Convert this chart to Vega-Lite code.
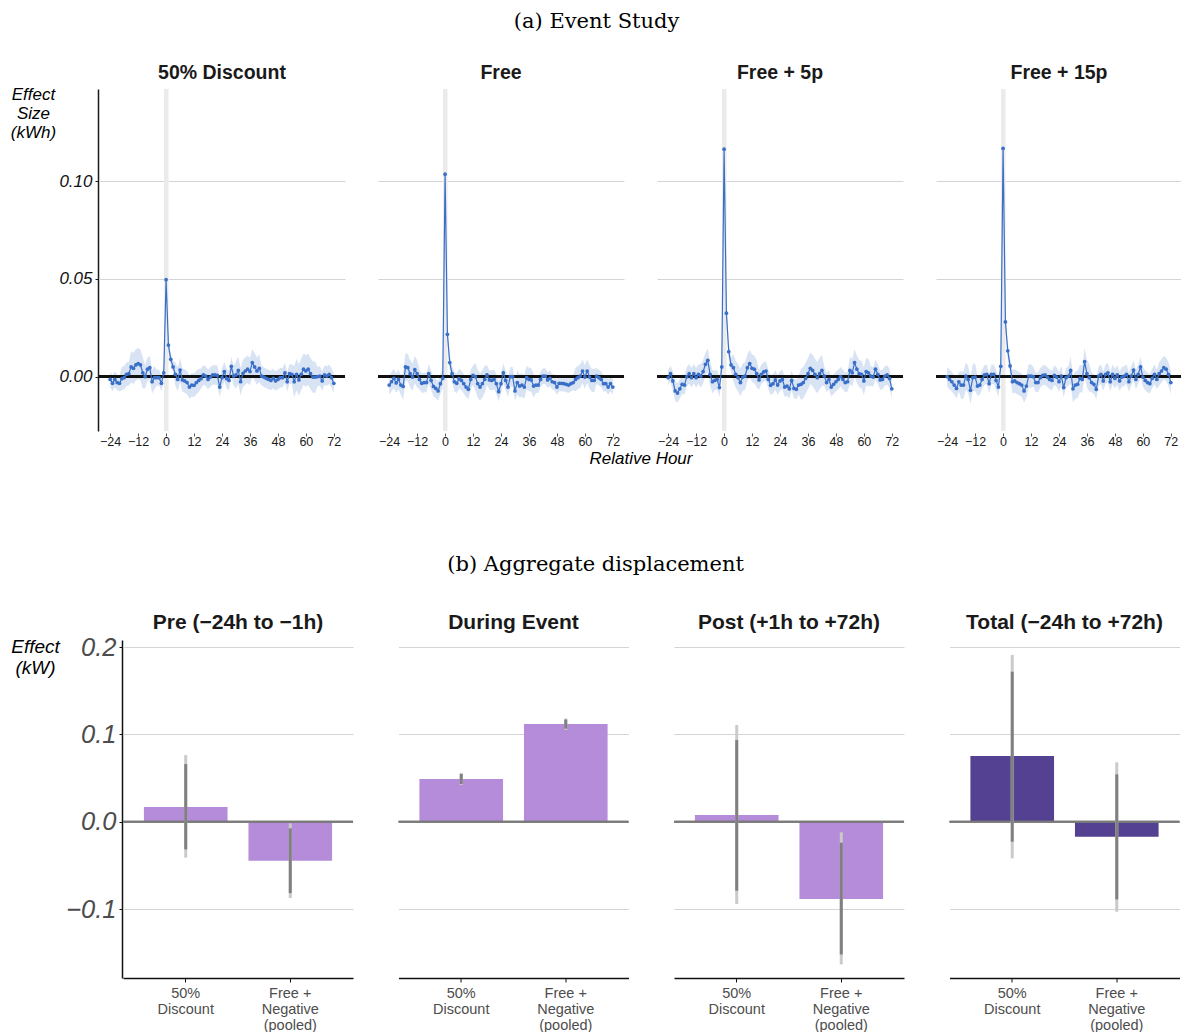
{
"$schema": "https://vega.github.io/schema/vega-lite/v6.json",
"padding": {"left": 9, "top": 10, "right": 0, "bottom": 0},
"background": "white",
"spacing": 87,
"config": {"view": {"stroke": null}, "axis": {"labelFont": "Liberation Sans", "titleFont": "Liberation Sans"}},
"datasets": {
"es": [
{"p":"50% Discount","h":-24,"e":-0.0014,"lo":-0.0054,"hi":0.0026},
{"p":"50% Discount","h":-23,"e":-0.0034,"lo":-0.0074,"hi":0.0006},
{"p":"50% Discount","h":-22,"e":-0.0014,"lo":-0.0054,"hi":0.0026},
{"p":"50% Discount","h":-21,"e":-0.0030,"lo":-0.0070,"hi":0.0010},
{"p":"50% Discount","h":-20,"e":-0.0034,"lo":-0.0074,"hi":0.0006},
{"p":"50% Discount","h":-19,"e":-0.0010,"lo":-0.0070,"hi":0.0050},
{"p":"50% Discount","h":-18,"e":-0.0005,"lo":-0.0065,"hi":0.0055},
{"p":"50% Discount","h":-17,"e":0.0012,"lo":-0.0048,"hi":0.0072},
{"p":"50% Discount","h":-16,"e":0.0015,"lo":-0.0045,"hi":0.0075},
{"p":"50% Discount","h":-15,"e":0.0050,"lo":-0.0030,"hi":0.0130},
{"p":"50% Discount","h":-14,"e":0.0043,"lo":-0.0037,"hi":0.0123},
{"p":"50% Discount","h":-13,"e":0.0060,"lo":-0.0020,"hi":0.0140},
{"p":"50% Discount","h":-12,"e":0.0067,"lo":-0.0013,"hi":0.0147},
{"p":"50% Discount","h":-11,"e":0.0060,"lo":-0.0020,"hi":0.0140},
{"p":"50% Discount","h":-10,"e":0.0020,"lo":-0.0060,"hi":0.0100},
{"p":"50% Discount","h":-9,"e":0.0000,"lo":-0.0060,"hi":0.0060},
{"p":"50% Discount","h":-8,"e":0.0038,"lo":-0.0022,"hi":0.0098},
{"p":"50% Discount","h":-7,"e":0.0046,"lo":-0.0014,"hi":0.0106},
{"p":"50% Discount","h":-6,"e":-0.0026,"lo":-0.0086,"hi":0.0034},
{"p":"50% Discount","h":-5,"e":-0.0005,"lo":-0.0065,"hi":0.0055},
{"p":"50% Discount","h":-4,"e":-0.0005,"lo":-0.0045,"hi":0.0035},
{"p":"50% Discount","h":-3,"e":-0.0005,"lo":-0.0045,"hi":0.0035},
{"p":"50% Discount","h":-2,"e":-0.0034,"lo":-0.0074,"hi":0.0006},
{"p":"50% Discount","h":-1,"e":0.0020,"lo":-0.0020,"hi":0.0060},
{"p":"50% Discount","h":0,"e":0.0496,"lo":0.0476,"hi":0.0516},
{"p":"50% Discount","h":1,"e":0.0162,"lo":0.0132,"hi":0.0192},
{"p":"50% Discount","h":2,"e":0.0089,"lo":0.0059,"hi":0.0119},
{"p":"50% Discount","h":3,"e":0.0050,"lo":0.0020,"hi":0.0080},
{"p":"50% Discount","h":4,"e":0.0012,"lo":-0.0048,"hi":0.0072},
{"p":"50% Discount","h":5,"e":-0.0014,"lo":-0.0074,"hi":0.0046},
{"p":"50% Discount","h":6,"e":0.0034,"lo":-0.0026,"hi":0.0094},
{"p":"50% Discount","h":7,"e":-0.0017,"lo":-0.0077,"hi":0.0043},
{"p":"50% Discount","h":8,"e":-0.0022,"lo":-0.0082,"hi":0.0038},
{"p":"50% Discount","h":9,"e":-0.0030,"lo":-0.0090,"hi":0.0030},
{"p":"50% Discount","h":10,"e":-0.0053,"lo":-0.0113,"hi":0.0007},
{"p":"50% Discount","h":11,"e":-0.0043,"lo":-0.0103,"hi":0.0017},
{"p":"50% Discount","h":12,"e":-0.0044,"lo":-0.0104,"hi":0.0016},
{"p":"50% Discount","h":13,"e":-0.0030,"lo":-0.0090,"hi":0.0030},
{"p":"50% Discount","h":14,"e":-0.0019,"lo":-0.0079,"hi":0.0041},
{"p":"50% Discount","h":15,"e":-0.0010,"lo":-0.0060,"hi":0.0040},
{"p":"50% Discount","h":16,"e":0.0009,"lo":-0.0041,"hi":0.0059},
{"p":"50% Discount","h":17,"e":0.0003,"lo":-0.0047,"hi":0.0053},
{"p":"50% Discount","h":18,"e":-0.0014,"lo":-0.0064,"hi":0.0036},
{"p":"50% Discount","h":19,"e":-0.0002,"lo":-0.0052,"hi":0.0048},
{"p":"50% Discount","h":20,"e":0.0009,"lo":-0.0041,"hi":0.0059},
{"p":"50% Discount","h":21,"e":0.0009,"lo":-0.0041,"hi":0.0059},
{"p":"50% Discount","h":22,"e":0.0007,"lo":-0.0043,"hi":0.0057},
{"p":"50% Discount","h":23,"e":-0.0053,"lo":-0.0103,"hi":-0.0003},
{"p":"50% Discount","h":24,"e":-0.0005,"lo":-0.0055,"hi":0.0045},
{"p":"50% Discount","h":25,"e":0.0026,"lo":-0.0024,"hi":0.0076},
{"p":"50% Discount","h":26,"e":-0.0010,"lo":-0.0060,"hi":0.0040},
{"p":"50% Discount","h":27,"e":-0.0019,"lo":-0.0069,"hi":0.0031},
{"p":"50% Discount","h":28,"e":0.0053,"lo":0.0003,"hi":0.0103},
{"p":"50% Discount","h":29,"e":0.0003,"lo":-0.0047,"hi":0.0053},
{"p":"50% Discount","h":30,"e":0.0009,"lo":-0.0061,"hi":0.0079},
{"p":"50% Discount","h":31,"e":0.0032,"lo":-0.0038,"hi":0.0102},
{"p":"50% Discount","h":32,"e":-0.0026,"lo":-0.0096,"hi":0.0044},
{"p":"50% Discount","h":33,"e":0.0017,"lo":-0.0053,"hi":0.0087},
{"p":"50% Discount","h":34,"e":0.0029,"lo":-0.0041,"hi":0.0099},
{"p":"50% Discount","h":35,"e":0.0038,"lo":-0.0032,"hi":0.0108},
{"p":"50% Discount","h":36,"e":0.0026,"lo":-0.0044,"hi":0.0096},
{"p":"50% Discount","h":37,"e":0.0072,"lo":0.0002,"hi":0.0142},
{"p":"50% Discount","h":38,"e":0.0050,"lo":-0.0020,"hi":0.0120},
{"p":"50% Discount","h":39,"e":0.0029,"lo":-0.0041,"hi":0.0099},
{"p":"50% Discount","h":40,"e":0.0043,"lo":-0.0027,"hi":0.0113},
{"p":"50% Discount","h":41,"e":0.0003,"lo":-0.0047,"hi":0.0053},
{"p":"50% Discount","h":42,"e":-0.0002,"lo":-0.0052,"hi":0.0048},
{"p":"50% Discount","h":43,"e":-0.0009,"lo":-0.0059,"hi":0.0041},
{"p":"50% Discount","h":44,"e":-0.0014,"lo":-0.0064,"hi":0.0036},
{"p":"50% Discount","h":45,"e":-0.0019,"lo":-0.0069,"hi":0.0031},
{"p":"50% Discount","h":46,"e":-0.0009,"lo":-0.0059,"hi":0.0041},
{"p":"50% Discount","h":47,"e":-0.0022,"lo":-0.0072,"hi":0.0028},
{"p":"50% Discount","h":48,"e":-0.0014,"lo":-0.0064,"hi":0.0036},
{"p":"50% Discount","h":49,"e":-0.0005,"lo":-0.0055,"hi":0.0045},
{"p":"50% Discount","h":50,"e":-0.0005,"lo":-0.0055,"hi":0.0045},
{"p":"50% Discount","h":51,"e":0.0020,"lo":-0.0030,"hi":0.0070},
{"p":"50% Discount","h":52,"e":-0.0026,"lo":-0.0076,"hi":0.0024},
{"p":"50% Discount","h":53,"e":0.0015,"lo":-0.0035,"hi":0.0065},
{"p":"50% Discount","h":54,"e":0.0012,"lo":-0.0038,"hi":0.0062},
{"p":"50% Discount","h":55,"e":-0.0026,"lo":-0.0106,"hi":0.0054},
{"p":"50% Discount","h":56,"e":0.0012,"lo":-0.0068,"hi":0.0092},
{"p":"50% Discount","h":57,"e":-0.0017,"lo":-0.0097,"hi":0.0063},
{"p":"50% Discount","h":58,"e":0.0012,"lo":-0.0068,"hi":0.0092},
{"p":"50% Discount","h":59,"e":0.0038,"lo":-0.0042,"hi":0.0118},
{"p":"50% Discount","h":60,"e":0.0029,"lo":-0.0051,"hi":0.0109},
{"p":"50% Discount","h":61,"e":0.0038,"lo":-0.0042,"hi":0.0118},
{"p":"50% Discount","h":62,"e":0.0015,"lo":-0.0065,"hi":0.0095},
{"p":"50% Discount","h":63,"e":-0.0002,"lo":-0.0082,"hi":0.0078},
{"p":"50% Discount","h":64,"e":-0.0002,"lo":-0.0082,"hi":0.0078},
{"p":"50% Discount","h":65,"e":0.0000,"lo":-0.0050,"hi":0.0050},
{"p":"50% Discount","h":66,"e":0.0003,"lo":-0.0047,"hi":0.0053},
{"p":"50% Discount","h":67,"e":-0.0022,"lo":-0.0072,"hi":0.0028},
{"p":"50% Discount","h":68,"e":0.0009,"lo":-0.0041,"hi":0.0059},
{"p":"50% Discount","h":69,"e":0.0003,"lo":-0.0047,"hi":0.0053},
{"p":"50% Discount","h":70,"e":0.0012,"lo":-0.0038,"hi":0.0062},
{"p":"50% Discount","h":71,"e":-0.0005,"lo":-0.0055,"hi":0.0045},
{"p":"50% Discount","h":72,"e":-0.0034,"lo":-0.0084,"hi":0.0016},
{"p":"Free","h":-24,"e":-0.0043,"lo":-0.0093,"hi":0.0007},
{"p":"Free","h":-23,"e":-0.0026,"lo":-0.0076,"hi":0.0024},
{"p":"Free","h":-22,"e":-0.0009,"lo":-0.0059,"hi":0.0041},
{"p":"Free","h":-21,"e":-0.0032,"lo":-0.0082,"hi":0.0018},
{"p":"Free","h":-20,"e":-0.0014,"lo":-0.0064,"hi":0.0036},
{"p":"Free","h":-19,"e":-0.0043,"lo":-0.0093,"hi":0.0007},
{"p":"Free","h":-18,"e":-0.0050,"lo":-0.0120,"hi":0.0020},
{"p":"Free","h":-17,"e":0.0050,"lo":-0.0020,"hi":0.0120},
{"p":"Free","h":-16,"e":0.0046,"lo":-0.0024,"hi":0.0116},
{"p":"Free","h":-15,"e":0.0015,"lo":-0.0055,"hi":0.0085},
{"p":"Free","h":-14,"e":-0.0002,"lo":-0.0072,"hi":0.0068},
{"p":"Free","h":-13,"e":0.0036,"lo":-0.0034,"hi":0.0106},
{"p":"Free","h":-12,"e":0.0015,"lo":-0.0055,"hi":0.0085},
{"p":"Free","h":-11,"e":-0.0014,"lo":-0.0064,"hi":0.0036},
{"p":"Free","h":-10,"e":-0.0034,"lo":-0.0084,"hi":0.0016},
{"p":"Free","h":-9,"e":-0.0030,"lo":-0.0080,"hi":0.0020},
{"p":"Free","h":-8,"e":-0.0030,"lo":-0.0080,"hi":0.0020},
{"p":"Free","h":-7,"e":0.0015,"lo":-0.0035,"hi":0.0065},
{"p":"Free","h":-6,"e":-0.0019,"lo":-0.0069,"hi":0.0031},
{"p":"Free","h":-5,"e":-0.0050,"lo":-0.0100,"hi":0.0000},
{"p":"Free","h":-4,"e":-0.0060,"lo":-0.0110,"hi":-0.0010},
{"p":"Free","h":-3,"e":-0.0073,"lo":-0.0123,"hi":-0.0023},
{"p":"Free","h":-2,"e":-0.0036,"lo":-0.0086,"hi":0.0014},
{"p":"Free","h":-1,"e":-0.0009,"lo":-0.0059,"hi":0.0041},
{"p":"Free","h":0,"e":0.1036,"lo":0.1006,"hi":0.1066},
{"p":"Free","h":1,"e":0.0217,"lo":0.0177,"hi":0.0257},
{"p":"Free","h":2,"e":0.0072,"lo":0.0032,"hi":0.0112},
{"p":"Free","h":3,"e":0.0015,"lo":-0.0025,"hi":0.0055},
{"p":"Free","h":4,"e":-0.0026,"lo":-0.0076,"hi":0.0024},
{"p":"Free","h":5,"e":-0.0034,"lo":-0.0084,"hi":0.0016},
{"p":"Free","h":6,"e":-0.0010,"lo":-0.0060,"hi":0.0040},
{"p":"Free","h":7,"e":-0.0019,"lo":-0.0069,"hi":0.0031},
{"p":"Free","h":8,"e":-0.0036,"lo":-0.0086,"hi":0.0014},
{"p":"Free","h":9,"e":-0.0053,"lo":-0.0103,"hi":-0.0003},
{"p":"Free","h":10,"e":-0.0065,"lo":-0.0115,"hi":-0.0015},
{"p":"Free","h":11,"e":-0.0014,"lo":-0.0064,"hi":0.0036},
{"p":"Free","h":12,"e":0.0007,"lo":-0.0043,"hi":0.0057},
{"p":"Free","h":13,"e":0.0000,"lo":-0.0070,"hi":0.0070},
{"p":"Free","h":14,"e":-0.0036,"lo":-0.0106,"hi":0.0034},
{"p":"Free","h":15,"e":-0.0053,"lo":-0.0123,"hi":0.0017},
{"p":"Free","h":16,"e":-0.0036,"lo":-0.0106,"hi":0.0034},
{"p":"Free","h":17,"e":-0.0014,"lo":-0.0084,"hi":0.0056},
{"p":"Free","h":18,"e":0.0009,"lo":-0.0041,"hi":0.0059},
{"p":"Free","h":19,"e":-0.0017,"lo":-0.0067,"hi":0.0033},
{"p":"Free","h":20,"e":-0.0019,"lo":-0.0069,"hi":0.0031},
{"p":"Free","h":21,"e":-0.0014,"lo":-0.0064,"hi":0.0036},
{"p":"Free","h":22,"e":-0.0036,"lo":-0.0086,"hi":0.0014},
{"p":"Free","h":23,"e":-0.0077,"lo":-0.0127,"hi":-0.0027},
{"p":"Free","h":24,"e":-0.0036,"lo":-0.0086,"hi":0.0014},
{"p":"Free","h":25,"e":0.0020,"lo":-0.0030,"hi":0.0070},
{"p":"Free","h":26,"e":-0.0019,"lo":-0.0069,"hi":0.0031},
{"p":"Free","h":27,"e":-0.0053,"lo":-0.0103,"hi":-0.0003},
{"p":"Free","h":28,"e":0.0000,"lo":-0.0050,"hi":0.0050},
{"p":"Free","h":29,"e":0.0000,"lo":-0.0050,"hi":0.0050},
{"p":"Free","h":30,"e":-0.0073,"lo":-0.0123,"hi":-0.0023},
{"p":"Free","h":31,"e":-0.0030,"lo":-0.0090,"hi":0.0030},
{"p":"Free","h":32,"e":-0.0048,"lo":-0.0108,"hi":0.0012},
{"p":"Free","h":33,"e":-0.0043,"lo":-0.0103,"hi":0.0017},
{"p":"Free","h":34,"e":-0.0053,"lo":-0.0113,"hi":0.0007},
{"p":"Free","h":35,"e":-0.0005,"lo":-0.0065,"hi":0.0055},
{"p":"Free","h":36,"e":-0.0014,"lo":-0.0074,"hi":0.0046},
{"p":"Free","h":37,"e":-0.0017,"lo":-0.0077,"hi":0.0043},
{"p":"Free","h":38,"e":-0.0048,"lo":-0.0108,"hi":0.0012},
{"p":"Free","h":39,"e":-0.0043,"lo":-0.0083,"hi":-0.0003},
{"p":"Free","h":40,"e":-0.0043,"lo":-0.0083,"hi":-0.0003},
{"p":"Free","h":41,"e":-0.0014,"lo":-0.0054,"hi":0.0026},
{"p":"Free","h":42,"e":0.0003,"lo":-0.0037,"hi":0.0043},
{"p":"Free","h":43,"e":0.0003,"lo":-0.0037,"hi":0.0043},
{"p":"Free","h":44,"e":-0.0017,"lo":-0.0057,"hi":0.0023},
{"p":"Free","h":45,"e":-0.0009,"lo":-0.0049,"hi":0.0031},
{"p":"Free","h":46,"e":-0.0026,"lo":-0.0066,"hi":0.0014},
{"p":"Free","h":47,"e":-0.0030,"lo":-0.0070,"hi":0.0010},
{"p":"Free","h":48,"e":-0.0053,"lo":-0.0093,"hi":-0.0013},
{"p":"Free","h":49,"e":-0.0034,"lo":-0.0074,"hi":0.0006},
{"p":"Free","h":50,"e":-0.0034,"lo":-0.0074,"hi":0.0006},
{"p":"Free","h":51,"e":-0.0036,"lo":-0.0076,"hi":0.0004},
{"p":"Free","h":52,"e":-0.0039,"lo":-0.0079,"hi":0.0001},
{"p":"Free","h":53,"e":-0.0043,"lo":-0.0083,"hi":-0.0003},
{"p":"Free","h":54,"e":-0.0036,"lo":-0.0076,"hi":0.0004},
{"p":"Free","h":55,"e":-0.0030,"lo":-0.0070,"hi":0.0010},
{"p":"Free","h":56,"e":-0.0014,"lo":-0.0074,"hi":0.0046},
{"p":"Free","h":57,"e":-0.0005,"lo":-0.0065,"hi":0.0055},
{"p":"Free","h":58,"e":0.0003,"lo":-0.0057,"hi":0.0063},
{"p":"Free","h":59,"e":0.0029,"lo":-0.0031,"hi":0.0089},
{"p":"Free","h":60,"e":-0.0002,"lo":-0.0062,"hi":0.0058},
{"p":"Free","h":61,"e":0.0029,"lo":-0.0031,"hi":0.0089},
{"p":"Free","h":62,"e":-0.0002,"lo":-0.0062,"hi":0.0058},
{"p":"Free","h":63,"e":-0.0019,"lo":-0.0079,"hi":0.0041},
{"p":"Free","h":64,"e":-0.0019,"lo":-0.0079,"hi":0.0041},
{"p":"Free","h":65,"e":0.0003,"lo":-0.0037,"hi":0.0043},
{"p":"Free","h":66,"e":-0.0005,"lo":-0.0045,"hi":0.0035},
{"p":"Free","h":67,"e":-0.0014,"lo":-0.0054,"hi":0.0026},
{"p":"Free","h":68,"e":-0.0036,"lo":-0.0076,"hi":0.0004},
{"p":"Free","h":69,"e":-0.0036,"lo":-0.0076,"hi":0.0004},
{"p":"Free","h":70,"e":-0.0053,"lo":-0.0093,"hi":-0.0013},
{"p":"Free","h":71,"e":-0.0036,"lo":-0.0076,"hi":0.0004},
{"p":"Free","h":72,"e":-0.0053,"lo":-0.0093,"hi":-0.0013},
{"p":"Free + 5p","h":-24,"e":-0.0005,"lo":-0.0045,"hi":0.0035},
{"p":"Free + 5p","h":-23,"e":0.0015,"lo":-0.0025,"hi":0.0055},
{"p":"Free + 5p","h":-22,"e":-0.0022,"lo":-0.0072,"hi":0.0028},
{"p":"Free + 5p","h":-21,"e":-0.0073,"lo":-0.0123,"hi":-0.0023},
{"p":"Free + 5p","h":-20,"e":-0.0084,"lo":-0.0134,"hi":-0.0034},
{"p":"Free + 5p","h":-19,"e":-0.0062,"lo":-0.0112,"hi":-0.0012},
{"p":"Free + 5p","h":-18,"e":-0.0039,"lo":-0.0089,"hi":0.0011},
{"p":"Free + 5p","h":-17,"e":-0.0043,"lo":-0.0093,"hi":0.0007},
{"p":"Free + 5p","h":-16,"e":0.0000,"lo":-0.0050,"hi":0.0050},
{"p":"Free + 5p","h":-15,"e":0.0015,"lo":-0.0035,"hi":0.0065},
{"p":"Free + 5p","h":-14,"e":-0.0005,"lo":-0.0055,"hi":0.0045},
{"p":"Free + 5p","h":-13,"e":0.0015,"lo":-0.0035,"hi":0.0065},
{"p":"Free + 5p","h":-12,"e":-0.0005,"lo":-0.0055,"hi":0.0045},
{"p":"Free + 5p","h":-11,"e":0.0012,"lo":-0.0038,"hi":0.0062},
{"p":"Free + 5p","h":-10,"e":0.0003,"lo":-0.0057,"hi":0.0063},
{"p":"Free + 5p","h":-9,"e":0.0026,"lo":-0.0034,"hi":0.0086},
{"p":"Free + 5p","h":-8,"e":0.0063,"lo":0.0003,"hi":0.0123},
{"p":"Free + 5p","h":-7,"e":0.0084,"lo":0.0024,"hi":0.0144},
{"p":"Free + 5p","h":-6,"e":0.0012,"lo":-0.0048,"hi":0.0072},
{"p":"Free + 5p","h":-5,"e":-0.0026,"lo":-0.0086,"hi":0.0034},
{"p":"Free + 5p","h":-4,"e":-0.0019,"lo":-0.0069,"hi":0.0031},
{"p":"Free + 5p","h":-3,"e":-0.0014,"lo":-0.0064,"hi":0.0036},
{"p":"Free + 5p","h":-2,"e":-0.0056,"lo":-0.0106,"hi":-0.0006},
{"p":"Free + 5p","h":-1,"e":0.0050,"lo":0.0000,"hi":0.0100},
{"p":"Free + 5p","h":0,"e":0.1164,"lo":0.1134,"hi":0.1194},
{"p":"Free + 5p","h":1,"e":0.0325,"lo":0.0285,"hi":0.0365},
{"p":"Free + 5p","h":2,"e":0.0128,"lo":0.0088,"hi":0.0168},
{"p":"Free + 5p","h":3,"e":0.0060,"lo":0.0020,"hi":0.0100},
{"p":"Free + 5p","h":4,"e":0.0046,"lo":-0.0024,"hi":0.0116},
{"p":"Free + 5p","h":5,"e":0.0012,"lo":-0.0058,"hi":0.0082},
{"p":"Free + 5p","h":6,"e":-0.0005,"lo":-0.0075,"hi":0.0065},
{"p":"Free + 5p","h":7,"e":-0.0030,"lo":-0.0100,"hi":0.0040},
{"p":"Free + 5p","h":8,"e":-0.0002,"lo":-0.0072,"hi":0.0068},
{"p":"Free + 5p","h":9,"e":0.0003,"lo":-0.0067,"hi":0.0073},
{"p":"Free + 5p","h":10,"e":0.0046,"lo":-0.0024,"hi":0.0116},
{"p":"Free + 5p","h":11,"e":0.0067,"lo":-0.0003,"hi":0.0137},
{"p":"Free + 5p","h":12,"e":0.0043,"lo":-0.0027,"hi":0.0113},
{"p":"Free + 5p","h":13,"e":0.0038,"lo":-0.0032,"hi":0.0108},
{"p":"Free + 5p","h":14,"e":0.0015,"lo":-0.0055,"hi":0.0085},
{"p":"Free + 5p","h":15,"e":-0.0017,"lo":-0.0067,"hi":0.0033},
{"p":"Free + 5p","h":16,"e":0.0012,"lo":-0.0038,"hi":0.0062},
{"p":"Free + 5p","h":17,"e":0.0024,"lo":-0.0026,"hi":0.0074},
{"p":"Free + 5p","h":18,"e":0.0029,"lo":-0.0021,"hi":0.0079},
{"p":"Free + 5p","h":19,"e":-0.0014,"lo":-0.0064,"hi":0.0036},
{"p":"Free + 5p","h":20,"e":-0.0044,"lo":-0.0094,"hi":0.0006},
{"p":"Free + 5p","h":21,"e":-0.0036,"lo":-0.0086,"hi":0.0014},
{"p":"Free + 5p","h":22,"e":-0.0017,"lo":-0.0067,"hi":0.0033},
{"p":"Free + 5p","h":23,"e":-0.0043,"lo":-0.0093,"hi":0.0007},
{"p":"Free + 5p","h":24,"e":-0.0022,"lo":-0.0072,"hi":0.0028},
{"p":"Free + 5p","h":25,"e":-0.0014,"lo":-0.0064,"hi":0.0036},
{"p":"Free + 5p","h":26,"e":-0.0053,"lo":-0.0103,"hi":-0.0003},
{"p":"Free + 5p","h":27,"e":-0.0048,"lo":-0.0098,"hi":0.0002},
{"p":"Free + 5p","h":28,"e":-0.0062,"lo":-0.0112,"hi":-0.0012},
{"p":"Free + 5p","h":29,"e":-0.0019,"lo":-0.0069,"hi":0.0031},
{"p":"Free + 5p","h":30,"e":-0.0060,"lo":-0.0110,"hi":-0.0010},
{"p":"Free + 5p","h":31,"e":-0.0065,"lo":-0.0115,"hi":-0.0015},
{"p":"Free + 5p","h":32,"e":-0.0043,"lo":-0.0093,"hi":0.0007},
{"p":"Free + 5p","h":33,"e":-0.0039,"lo":-0.0119,"hi":0.0041},
{"p":"Free + 5p","h":34,"e":-0.0030,"lo":-0.0110,"hi":0.0050},
{"p":"Free + 5p","h":35,"e":-0.0009,"lo":-0.0089,"hi":0.0071},
{"p":"Free + 5p","h":36,"e":0.0015,"lo":-0.0065,"hi":0.0095},
{"p":"Free + 5p","h":37,"e":0.0043,"lo":-0.0037,"hi":0.0123},
{"p":"Free + 5p","h":38,"e":0.0032,"lo":-0.0048,"hi":0.0112},
{"p":"Free + 5p","h":39,"e":0.0012,"lo":-0.0068,"hi":0.0092},
{"p":"Free + 5p","h":40,"e":-0.0005,"lo":-0.0085,"hi":0.0075},
{"p":"Free + 5p","h":41,"e":0.0015,"lo":-0.0065,"hi":0.0095},
{"p":"Free + 5p","h":42,"e":0.0032,"lo":-0.0048,"hi":0.0112},
{"p":"Free + 5p","h":43,"e":0.0003,"lo":-0.0047,"hi":0.0053},
{"p":"Free + 5p","h":44,"e":-0.0030,"lo":-0.0080,"hi":0.0020},
{"p":"Free + 5p","h":45,"e":-0.0014,"lo":-0.0064,"hi":0.0036},
{"p":"Free + 5p","h":46,"e":-0.0053,"lo":-0.0103,"hi":-0.0003},
{"p":"Free + 5p","h":47,"e":-0.0039,"lo":-0.0089,"hi":0.0011},
{"p":"Free + 5p","h":48,"e":-0.0026,"lo":-0.0076,"hi":0.0024},
{"p":"Free + 5p","h":49,"e":-0.0014,"lo":-0.0064,"hi":0.0036},
{"p":"Free + 5p","h":50,"e":0.0000,"lo":-0.0050,"hi":0.0050},
{"p":"Free + 5p","h":51,"e":-0.0014,"lo":-0.0064,"hi":0.0036},
{"p":"Free + 5p","h":52,"e":-0.0030,"lo":-0.0080,"hi":0.0020},
{"p":"Free + 5p","h":53,"e":-0.0026,"lo":-0.0076,"hi":0.0024},
{"p":"Free + 5p","h":54,"e":0.0032,"lo":-0.0038,"hi":0.0102},
{"p":"Free + 5p","h":55,"e":0.0020,"lo":-0.0050,"hi":0.0090},
{"p":"Free + 5p","h":56,"e":0.0072,"lo":0.0002,"hi":0.0142},
{"p":"Free + 5p","h":57,"e":0.0038,"lo":-0.0032,"hi":0.0108},
{"p":"Free + 5p","h":58,"e":0.0015,"lo":-0.0055,"hi":0.0085},
{"p":"Free + 5p","h":59,"e":0.0012,"lo":-0.0058,"hi":0.0082},
{"p":"Free + 5p","h":60,"e":-0.0022,"lo":-0.0092,"hi":0.0048},
{"p":"Free + 5p","h":61,"e":0.0026,"lo":-0.0044,"hi":0.0096},
{"p":"Free + 5p","h":62,"e":0.0020,"lo":-0.0050,"hi":0.0090},
{"p":"Free + 5p","h":63,"e":0.0003,"lo":-0.0047,"hi":0.0053},
{"p":"Free + 5p","h":64,"e":-0.0002,"lo":-0.0052,"hi":0.0048},
{"p":"Free + 5p","h":65,"e":0.0038,"lo":-0.0012,"hi":0.0088},
{"p":"Free + 5p","h":66,"e":0.0012,"lo":-0.0038,"hi":0.0062},
{"p":"Free + 5p","h":67,"e":-0.0017,"lo":-0.0067,"hi":0.0033},
{"p":"Free + 5p","h":68,"e":-0.0014,"lo":-0.0064,"hi":0.0036},
{"p":"Free + 5p","h":69,"e":0.0003,"lo":-0.0047,"hi":0.0053},
{"p":"Free + 5p","h":70,"e":0.0009,"lo":-0.0041,"hi":0.0059},
{"p":"Free + 5p","h":71,"e":-0.0009,"lo":-0.0059,"hi":0.0041},
{"p":"Free + 5p","h":72,"e":-0.0062,"lo":-0.0112,"hi":-0.0012},
{"p":"Free + 15p","h":-24,"e":0.0000,"lo":-0.0050,"hi":0.0050},
{"p":"Free + 15p","h":-23,"e":-0.0014,"lo":-0.0064,"hi":0.0036},
{"p":"Free + 15p","h":-22,"e":-0.0026,"lo":-0.0076,"hi":0.0024},
{"p":"Free + 15p","h":-21,"e":-0.0043,"lo":-0.0093,"hi":0.0007},
{"p":"Free + 15p","h":-20,"e":-0.0060,"lo":-0.0110,"hi":-0.0010},
{"p":"Free + 15p","h":-19,"e":-0.0026,"lo":-0.0076,"hi":0.0024},
{"p":"Free + 15p","h":-18,"e":-0.0043,"lo":-0.0113,"hi":0.0027},
{"p":"Free + 15p","h":-17,"e":-0.0043,"lo":-0.0113,"hi":0.0027},
{"p":"Free + 15p","h":-16,"e":0.0003,"lo":-0.0067,"hi":0.0073},
{"p":"Free + 15p","h":-15,"e":-0.0014,"lo":-0.0084,"hi":0.0056},
{"p":"Free + 15p","h":-14,"e":-0.0070,"lo":-0.0140,"hi":0.0000},
{"p":"Free + 15p","h":-13,"e":-0.0005,"lo":-0.0075,"hi":0.0065},
{"p":"Free + 15p","h":-12,"e":-0.0002,"lo":-0.0072,"hi":0.0068},
{"p":"Free + 15p","h":-11,"e":-0.0048,"lo":-0.0098,"hi":0.0002},
{"p":"Free + 15p","h":-10,"e":-0.0043,"lo":-0.0093,"hi":0.0007},
{"p":"Free + 15p","h":-9,"e":-0.0014,"lo":-0.0064,"hi":0.0036},
{"p":"Free + 15p","h":-8,"e":0.0009,"lo":-0.0041,"hi":0.0059},
{"p":"Free + 15p","h":-7,"e":0.0012,"lo":-0.0038,"hi":0.0062},
{"p":"Free + 15p","h":-6,"e":-0.0036,"lo":-0.0086,"hi":0.0014},
{"p":"Free + 15p","h":-5,"e":0.0012,"lo":-0.0038,"hi":0.0062},
{"p":"Free + 15p","h":-4,"e":0.0012,"lo":-0.0038,"hi":0.0062},
{"p":"Free + 15p","h":-3,"e":-0.0019,"lo":-0.0069,"hi":0.0031},
{"p":"Free + 15p","h":-2,"e":-0.0053,"lo":-0.0103,"hi":-0.0003},
{"p":"Free + 15p","h":-1,"e":0.0053,"lo":0.0003,"hi":0.0103},
{"p":"Free + 15p","h":0,"e":0.1168,"lo":0.1138,"hi":0.1198},
{"p":"Free + 15p","h":1,"e":0.0280,"lo":0.0240,"hi":0.0320},
{"p":"Free + 15p","h":2,"e":0.0132,"lo":0.0092,"hi":0.0172},
{"p":"Free + 15p","h":3,"e":0.0055,"lo":0.0015,"hi":0.0095},
{"p":"Free + 15p","h":4,"e":-0.0026,"lo":-0.0086,"hi":0.0034},
{"p":"Free + 15p","h":5,"e":-0.0022,"lo":-0.0082,"hi":0.0038},
{"p":"Free + 15p","h":6,"e":-0.0030,"lo":-0.0090,"hi":0.0030},
{"p":"Free + 15p","h":7,"e":-0.0036,"lo":-0.0096,"hi":0.0024},
{"p":"Free + 15p","h":8,"e":-0.0043,"lo":-0.0103,"hi":0.0017},
{"p":"Free + 15p","h":9,"e":-0.0073,"lo":-0.0133,"hi":-0.0013},
{"p":"Free + 15p","h":10,"e":-0.0048,"lo":-0.0108,"hi":0.0012},
{"p":"Free + 15p","h":11,"e":0.0003,"lo":-0.0057,"hi":0.0063},
{"p":"Free + 15p","h":12,"e":0.0003,"lo":-0.0057,"hi":0.0063},
{"p":"Free + 15p","h":13,"e":0.0000,"lo":-0.0050,"hi":0.0050},
{"p":"Free + 15p","h":14,"e":-0.0030,"lo":-0.0080,"hi":0.0020},
{"p":"Free + 15p","h":15,"e":-0.0030,"lo":-0.0080,"hi":0.0020},
{"p":"Free + 15p","h":16,"e":-0.0005,"lo":-0.0055,"hi":0.0045},
{"p":"Free + 15p","h":17,"e":0.0007,"lo":-0.0043,"hi":0.0057},
{"p":"Free + 15p","h":18,"e":0.0009,"lo":-0.0041,"hi":0.0059},
{"p":"Free + 15p","h":19,"e":-0.0002,"lo":-0.0052,"hi":0.0048},
{"p":"Free + 15p","h":20,"e":-0.0014,"lo":-0.0064,"hi":0.0036},
{"p":"Free + 15p","h":21,"e":-0.0019,"lo":-0.0069,"hi":0.0031},
{"p":"Free + 15p","h":22,"e":0.0007,"lo":-0.0043,"hi":0.0057},
{"p":"Free + 15p","h":23,"e":-0.0002,"lo":-0.0052,"hi":0.0048},
{"p":"Free + 15p","h":24,"e":-0.0026,"lo":-0.0076,"hi":0.0024},
{"p":"Free + 15p","h":25,"e":0.0003,"lo":-0.0047,"hi":0.0053},
{"p":"Free + 15p","h":26,"e":-0.0056,"lo":-0.0106,"hi":-0.0006},
{"p":"Free + 15p","h":27,"e":-0.0005,"lo":-0.0055,"hi":0.0045},
{"p":"Free + 15p","h":28,"e":0.0003,"lo":-0.0047,"hi":0.0053},
{"p":"Free + 15p","h":29,"e":0.0032,"lo":-0.0038,"hi":0.0102},
{"p":"Free + 15p","h":30,"e":-0.0062,"lo":-0.0132,"hi":0.0008},
{"p":"Free + 15p","h":31,"e":-0.0043,"lo":-0.0113,"hi":0.0027},
{"p":"Free + 15p","h":32,"e":-0.0039,"lo":-0.0109,"hi":0.0031},
{"p":"Free + 15p","h":33,"e":-0.0009,"lo":-0.0079,"hi":0.0061},
{"p":"Free + 15p","h":34,"e":-0.0014,"lo":-0.0084,"hi":0.0056},
{"p":"Free + 15p","h":35,"e":0.0077,"lo":0.0007,"hi":0.0147},
{"p":"Free + 15p","h":36,"e":0.0015,"lo":-0.0055,"hi":0.0085},
{"p":"Free + 15p","h":37,"e":-0.0005,"lo":-0.0075,"hi":0.0065},
{"p":"Free + 15p","h":38,"e":-0.0030,"lo":-0.0080,"hi":0.0020},
{"p":"Free + 15p","h":39,"e":-0.0039,"lo":-0.0089,"hi":0.0011},
{"p":"Free + 15p","h":40,"e":-0.0065,"lo":-0.0115,"hi":-0.0015},
{"p":"Free + 15p","h":41,"e":0.0003,"lo":-0.0047,"hi":0.0053},
{"p":"Free + 15p","h":42,"e":0.0012,"lo":-0.0038,"hi":0.0062},
{"p":"Free + 15p","h":43,"e":-0.0022,"lo":-0.0072,"hi":0.0028},
{"p":"Free + 15p","h":44,"e":0.0012,"lo":-0.0038,"hi":0.0062},
{"p":"Free + 15p","h":45,"e":0.0020,"lo":-0.0030,"hi":0.0070},
{"p":"Free + 15p","h":46,"e":-0.0026,"lo":-0.0076,"hi":0.0024},
{"p":"Free + 15p","h":47,"e":0.0012,"lo":-0.0038,"hi":0.0062},
{"p":"Free + 15p","h":48,"e":-0.0009,"lo":-0.0059,"hi":0.0041},
{"p":"Free + 15p","h":49,"e":0.0009,"lo":-0.0041,"hi":0.0059},
{"p":"Free + 15p","h":50,"e":-0.0022,"lo":-0.0072,"hi":0.0028},
{"p":"Free + 15p","h":51,"e":-0.0002,"lo":-0.0052,"hi":0.0048},
{"p":"Free + 15p","h":52,"e":0.0003,"lo":-0.0047,"hi":0.0053},
{"p":"Free + 15p","h":53,"e":0.0012,"lo":-0.0038,"hi":0.0062},
{"p":"Free + 15p","h":54,"e":-0.0026,"lo":-0.0076,"hi":0.0024},
{"p":"Free + 15p","h":55,"e":0.0003,"lo":-0.0047,"hi":0.0053},
{"p":"Free + 15p","h":56,"e":0.0034,"lo":-0.0016,"hi":0.0084},
{"p":"Free + 15p","h":57,"e":-0.0014,"lo":-0.0064,"hi":0.0036},
{"p":"Free + 15p","h":58,"e":0.0012,"lo":-0.0038,"hi":0.0062},
{"p":"Free + 15p","h":59,"e":0.0050,"lo":0.0000,"hi":0.0100},
{"p":"Free + 15p","h":60,"e":-0.0002,"lo":-0.0052,"hi":0.0048},
{"p":"Free + 15p","h":61,"e":-0.0019,"lo":-0.0069,"hi":0.0031},
{"p":"Free + 15p","h":62,"e":-0.0030,"lo":-0.0080,"hi":0.0020},
{"p":"Free + 15p","h":63,"e":-0.0036,"lo":-0.0086,"hi":0.0014},
{"p":"Free + 15p","h":64,"e":-0.0009,"lo":-0.0059,"hi":0.0041},
{"p":"Free + 15p","h":65,"e":0.0012,"lo":-0.0038,"hi":0.0062},
{"p":"Free + 15p","h":66,"e":-0.0014,"lo":-0.0064,"hi":0.0036},
{"p":"Free + 15p","h":67,"e":0.0015,"lo":-0.0045,"hi":0.0075},
{"p":"Free + 15p","h":68,"e":0.0029,"lo":-0.0031,"hi":0.0089},
{"p":"Free + 15p","h":69,"e":0.0046,"lo":-0.0014,"hi":0.0106},
{"p":"Free + 15p","h":70,"e":0.0038,"lo":-0.0022,"hi":0.0098},
{"p":"Free + 15p","h":71,"e":0.0012,"lo":-0.0048,"hi":0.0072},
{"p":"Free + 15p","h":72,"e":-0.0030,"lo":-0.0090,"hi":0.0030}
],
"ag": [
{"s":"Pre (−24h to −1h)","g":"50% Discount","k":"part","v":0.0168,"lo95":-0.0412,"hi95":0.0763,"lo90":-0.0317,"hi90":0.066},
{"s":"Pre (−24h to −1h)","g":"Free + Negative (pooled)","k":"part","v":-0.0447,"lo95":-0.0874,"hi95":-0.002,"lo90":-0.0818,"hi90":-0.0076},
{"s":"During Event","g":"50% Discount","k":"part","v":0.0489,"lo95":0.042,"hi95":0.056,"lo90":0.0431,"hi90":0.0546},
{"s":"During Event","g":"Free + Negative (pooled)","k":"part","v":0.1118,"lo95":0.105,"hi95":0.1183,"lo90":0.1065,"hi90":0.117},
{"s":"Post (+1h to +72h)","g":"50% Discount","k":"part","v":0.0076,"lo95":-0.0943,"hi95":0.1107,"lo90":-0.079,"hi90":0.0935},
{"s":"Post (+1h to +72h)","g":"Free + Negative (pooled)","k":"part","v":-0.0886,"lo95":-0.1634,"hi95":-0.0122,"lo90":-0.152,"hi90":-0.024},
{"s":"Total (−24h to +72h)","g":"50% Discount","k":"total","v":0.0752,"lo95":-0.042,"hi95":0.191,"lo90":-0.0229,"hi90":0.1718},
{"s":"Total (−24h to +72h)","g":"Free + Negative (pooled)","k":"total","v":-0.0172,"lo95":-0.1031,"hi95":0.068,"lo90":-0.089,"hi90":0.0542}
]
},
"vconcat": [
{
"spacing": 0,
"hconcat": [
{"width": 1, "height": 1, "data": {"values": [{"a": 1}]}, "mark": {"type": "rule", "strokeWidth": 0, "opacity": 0}, "encoding": {"x": {"value": 0}, "y": {"value": 0}, "y2": {"value": 0}}},
{
"data": {"name": "es"},
"title": {"text": "(a) Event Study", "font": "DejaVu Serif", "fontSize": 21, "fontWeight": "normal", "color": "#000000", "offset": 31, "anchor": "middle"},
"facet": {"column": {"field": "p", "type": "nominal", "sort": ["50% Discount", "Free", "Free + 5p", "Free + 15p"], "title": "Relative Hour",
  "header": {"labelOrient": "top", "titleOrient": "bottom", "labelFont": "Liberation Sans", "labelFontSize": 19.5, "labelFontWeight": "bold", "labelColor": "#1a1a1a", "labelPadding": 4,
             "titleFont": "Liberation Sans", "titleFontSize": 17, "titleFontStyle": "italic", "titleFontWeight": "normal", "titleColor": "#000000", "titlePadding": -7}}},
"spacing": 31,
"spec": {
 "width": 246, "height": 342,
 "layer": [
  {"mark": {"type": "rule", "color": "#ebebeb", "strokeWidth": 4},
   "encoding": {"x": {"datum": 0, "type": "quantitative", "scale": {"domain": [-28.8, 76.8], "nice": false, "zero": false},
          "axis": {"values": [-24, -12, 0, 12, 24, 36, 48, 60, 72], "format": "d", "domain": false, "grid": false, "ticks": true, "tickSize": 3, "tickColor": "#555555", "labelFontSize": 12.5, "labelColor": "#1a1a1a", "labelPadding": -1, "labelFlush": false, "labelOverlap": false, "title": null}}}},
  {"mark": {"type": "area", "color": "#3b73c8", "opacity": 0.2},
   "encoding": {
    "x": {"field": "h", "type": "quantitative", "scale": {"domain": [-28.8, 76.8], "nice": false, "zero": false},
          "axis": {"values": [-24, -12, 0, 12, 24, 36, 48, 60, 72], "format": "d", "domain": false, "grid": false, "ticks": true, "tickSize": 3, "tickColor": "#555555", "labelFontSize": 12.5, "labelColor": "#1a1a1a", "labelPadding": -1, "labelFlush": false, "labelOverlap": false, "title": null}},
    "y": {"field": "lo", "type": "quantitative", "scale": {"domain": [-0.0278, 0.1472], "nice": false, "zero": false},
          "axis": {"values": [0, 0.05, 0.1], "format": ".2f", "grid": true, "gridColor": "#d4d4d4", "gridWidth": 1, "domain": true, "domainColor": "#1a1a1a", "domainWidth": 1.5, "tickColor": "#1a1a1a", "tickSize": 3, "labelFontSize": 17, "labelFontStyle": "italic", "labelColor": "#111111", "labelPadding": 3,
                   "title": ["Effect", "Size", "(kWh)"], "titleAngle": 0, "titleFontSize": 17, "titleFontStyle": "italic", "titleFontWeight": "normal", "titleColor": "#000000", "titleAlign": "center", "titleBaseline": "top", "titleX": -65, "titleY": -3, "titleLineHeight": 19}},
    "y2": {"field": "hi"}
   }},
  {"mark": {"type": "rule", "color": "#111111", "strokeWidth": 1.6},
   "encoding": {"y": {"datum": 0, "type": "quantitative", "scale": {"domain": [-0.0278, 0.1472], "nice": false, "zero": false},
          "axis": {"values": [0, 0.05, 0.1], "format": ".2f", "grid": true, "gridColor": "#d4d4d4", "gridWidth": 1, "domain": true, "domainColor": "#1a1a1a", "domainWidth": 1.5, "tickColor": "#1a1a1a", "tickSize": 3, "labelFontSize": 17, "labelFontStyle": "italic", "labelColor": "#111111", "labelPadding": 3,
                   "title": ["Effect", "Size", "(kWh)"], "titleAngle": 0, "titleFontSize": 17, "titleFontStyle": "italic", "titleFontWeight": "normal", "titleColor": "#000000", "titleAlign": "center", "titleBaseline": "top", "titleX": -65, "titleY": -3, "titleLineHeight": 19}}}},
  {"mark": {"type": "line", "color": "#3a6fc8", "strokeWidth": 1.2},
   "encoding": {
    "x": {"field": "h", "type": "quantitative", "scale": {"domain": [-28.8, 76.8], "nice": false, "zero": false},
          "axis": {"values": [-24, -12, 0, 12, 24, 36, 48, 60, 72], "format": "d", "domain": false, "grid": false, "ticks": true, "tickSize": 3, "tickColor": "#555555", "labelFontSize": 12.5, "labelColor": "#1a1a1a", "labelPadding": -1, "labelFlush": false, "labelOverlap": false, "title": null}},
    "y": {"field": "e", "type": "quantitative", "scale": {"domain": [-0.0278, 0.1472], "nice": false, "zero": false},
          "axis": {"values": [0, 0.05, 0.1], "format": ".2f", "grid": true, "gridColor": "#d4d4d4", "gridWidth": 1, "domain": true, "domainColor": "#1a1a1a", "domainWidth": 1.5, "tickColor": "#1a1a1a", "tickSize": 3, "labelFontSize": 17, "labelFontStyle": "italic", "labelColor": "#111111", "labelPadding": 3,
                   "title": ["Effect", "Size", "(kWh)"], "titleAngle": 0, "titleFontSize": 17, "titleFontStyle": "italic", "titleFontWeight": "normal", "titleColor": "#000000", "titleAlign": "center", "titleBaseline": "top", "titleX": -65, "titleY": -3, "titleLineHeight": 19}}}},
  {"mark": {"type": "point", "filled": true, "color": "#3a6fc8", "size": 14, "opacity": 1},
   "encoding": {
    "x": {"field": "h", "type": "quantitative", "scale": {"domain": [-28.8, 76.8], "nice": false, "zero": false},
          "axis": {"values": [-24, -12, 0, 12, 24, 36, 48, 60, 72], "format": "d", "domain": false, "grid": false, "ticks": true, "tickSize": 3, "tickColor": "#555555", "labelFontSize": 12.5, "labelColor": "#1a1a1a", "labelPadding": -1, "labelFlush": false, "labelOverlap": false, "title": null}},
    "y": {"field": "e", "type": "quantitative", "scale": {"domain": [-0.0278, 0.1472], "nice": false, "zero": false},
          "axis": {"values": [0, 0.05, 0.1], "format": ".2f", "grid": true, "gridColor": "#d4d4d4", "gridWidth": 1, "domain": true, "domainColor": "#1a1a1a", "domainWidth": 1.5, "tickColor": "#1a1a1a", "tickSize": 3, "labelFontSize": 17, "labelFontStyle": "italic", "labelColor": "#111111", "labelPadding": 3,
                   "title": ["Effect", "Size", "(kWh)"], "titleAngle": 0, "titleFontSize": 17, "titleFontStyle": "italic", "titleFontWeight": "normal", "titleColor": "#000000", "titleAlign": "center", "titleBaseline": "top", "titleX": -65, "titleY": -3, "titleLineHeight": 19}}}}
 ]
}
}
]
},
{
"spacing": 0,
"hconcat": [
{"width": 1, "height": 1, "data": {"values": [{"a": 1}]}, "mark": {"type": "rule", "strokeWidth": 0, "opacity": 0}, "encoding": {"x": {"value": 0}, "y": {"value": 0}, "y2": {"value": 0}}},
{
"data": {"name": "ag"},
"title": {"text": "(b) Aggregate displacement", "font": "DejaVu Serif", "fontSize": 21, "fontWeight": "normal", "color": "#000000", "offset": 37, "anchor": "middle"},
"facet": {"column": {"field": "s", "type": "nominal", "sort": ["Pre (−24h to −1h)", "During Event", "Post (+1h to +72h)", "Total (−24h to +72h)"], "title": null,
  "header": {"labelOrient": "top", "labelFont": "Liberation Sans", "labelFontSize": 21, "labelFontWeight": "bold", "labelColor": "#1a1a1a", "labelPadding": 7}}},
"spacing": 43.5,
"spec": {
 "width": 230, "height": 338,
 "layer": [
  {"mark": {"type": "bar"},
   "encoding": {
    "x": {"field": "g", "type": "nominal", "sort": ["50% Discount", "Free + Negative (pooled)"], "scale": {"paddingInner": 0.2, "paddingOuter": 0.2},
          "axis": {"labelAngle": 0, "domain": true, "domainColor": "#111111", "domainWidth": 1.5, "tickColor": "#111111", "tickSize": 4, "labelFontSize": 14.5, "labelColor": "#4d4d4d", "labelLineHeight": 16, "labelPadding": 4, "labelBaseline": "top",
                   "labelExpr": "datum.value == '50% Discount' ? ['50%', 'Discount'] : ['Free +', 'Negative', '(pooled)']", "title": null, "grid": false}},
    "y": {"field": "v", "type": "quantitative", "scale": {"domain": [-0.179, 0.2081], "nice": false, "zero": false},
          "axis": {"values": [-0.1, 0, 0.1, 0.2], "format": ".1f", "grid": true, "gridColor": "#d4d4d4", "gridWidth": 1, "domain": true, "domainColor": "#111111", "domainWidth": 1.5, "tickColor": "#111111", "tickSize": 3, "labelFontSize": 25.5, "labelFontStyle": "italic", "labelColor": "#4d4d4d", "labelPadding": 3,
                   "title": ["Effect", "(kW)"], "titleAngle": 0, "titleFontSize": 19, "titleFontStyle": "italic", "titleFontWeight": "normal", "titleColor": "#000000", "titleAlign": "center", "titleBaseline": "top", "titleX": -87, "titleY": -3, "titleLineHeight": 21}},
    "y2": {"datum": 0},
    "color": {"field": "k", "type": "nominal", "scale": {"domain": ["part", "total"], "range": ["#b48cd9", "#554191"]}, "legend": null}
   }},
  {"mark": {"type": "rule", "color": "#7a7a7a", "strokeWidth": 2}, "encoding": {"y": {"datum": 0, "type": "quantitative"}}},
  {"mark": {"type": "rule", "color": "#cacaca", "strokeWidth": 3}, "encoding": {"x": {"field": "g", "type": "nominal", "sort": ["50% Discount", "Free + Negative (pooled)"]}, "y": {"field": "lo95", "type": "quantitative"}, "y2": {"field": "hi95"}}},
  {"mark": {"type": "rule", "color": "#808080", "strokeWidth": 3}, "encoding": {"x": {"field": "g", "type": "nominal", "sort": ["50% Discount", "Free + Negative (pooled)"]}, "y": {"field": "lo90", "type": "quantitative"}, "y2": {"field": "hi90"}}}
 ]
}
}
]
}
]
}
